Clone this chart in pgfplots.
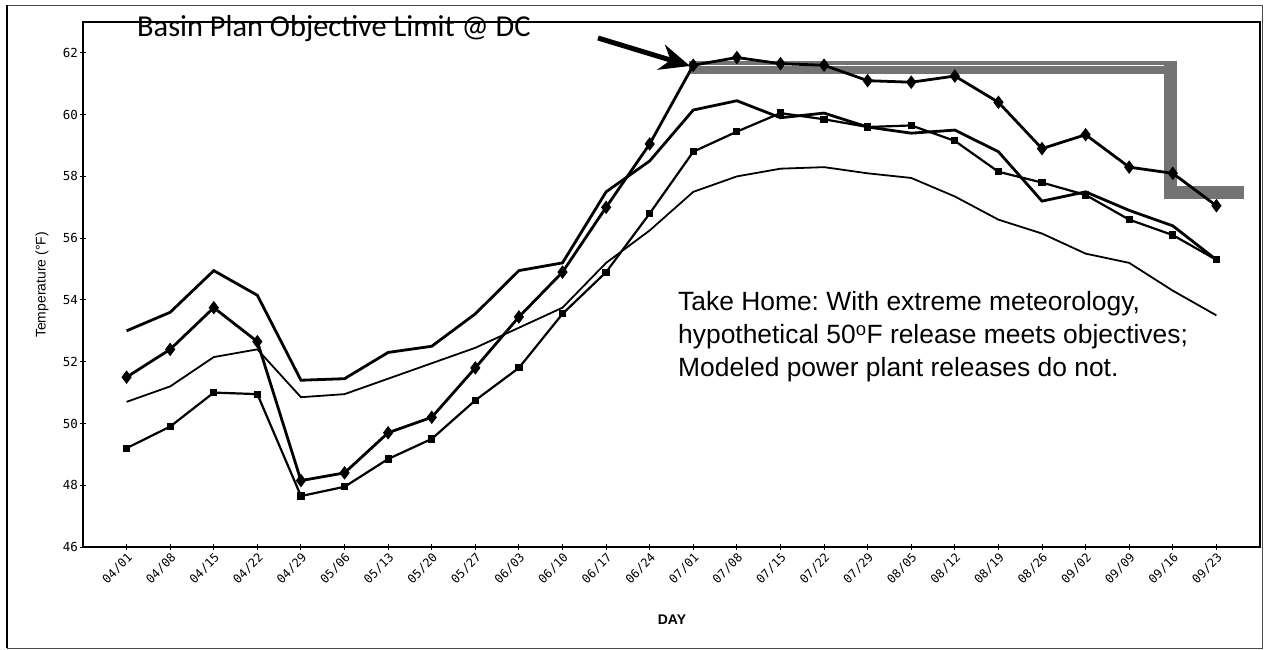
\documentclass[border=0pt]{standalone}
\usepackage{fontspec}
\setmainfont{Liberation Sans}
\newfontfamily\calibri{Carlito}
\newfontfamily\tickfont{DejaVu Sans Mono}
\usepackage{pgfplots}
\pgfplotsset{compat=1.18}
\usetikzlibrary{arrows.meta}
\frenchspacing
\begin{document}
\begin{tikzpicture}
\begin{axis}[
  at={(0,0)}, anchor=south west,
  scale only axis, width=1177bp, height=525bp,
  xmin=-1, xmax=26, ymin=46, ymax=63,
  xtick={0,...,25},
  xticklabels={04/01,04/08,04/15,04/22,04/29,05/06,05/13,05/20,05/27,06/03,06/10,06/17,06/24,07/01,07/08,07/15,07/22,07/29,08/05,08/12,08/19,08/26,09/02,09/09,09/16,09/23},
  ytick={46,48,...,62},
  tick pos=left, tick align=center,
  major tick length=6bp,
  axis line style={black, line width=1.4bp},
  every tick/.style={black, line width=1bp},
  /pgf/number format/assume math mode=true,
  x tick label style={font=\tickfont\fontsize{12}{12}\selectfont, rotate=45, anchor=north east, inner sep=1.5bp},
  y tick label style={font=\tickfont\fontsize{12.5}{13}\selectfont, inner sep=2bp},
  clip=false,
]
% objective limit band
\addplot[black!55, line width=13bp, line join=miter, line cap=butt] coordinates {(12.91,61.54) (23.95,61.54) (23.95,57.48) (25.64,57.48)};
\addplot[white, line width=1.2bp] coordinates {(12.95,61.6) (23.8,61.6)};
% A: thick plain
\addplot[black, line width=2.8bp] coordinates {
(0,53.0) (1,53.6) (2,54.95) (3,54.15) (4,51.4) (5,51.45) (6,52.3) (7,52.5) (8,53.55) (9,54.95) (10,55.2) (11,57.5) (12,58.5) (13,60.15) (14,60.45) (15,59.9) (16,60.05) (17,59.6) (18,59.4) (19,59.5) (20,58.8) (21,57.2) (22,57.5) (23,56.9) (24,56.4) (25,55.3)};
% B: diamonds
\addplot[black, line width=2.8bp, mark=diamond*, mark size=4.5bp] coordinates {
(0,51.5) (1,52.4) (2,53.75) (3,52.65) (4,48.15) (5,48.4) (6,49.7) (7,50.2) (8,51.8) (9,53.45) (10,54.9) (11,57.0) (12,59.05) (13,61.6) (14,61.85) (15,61.65) (16,61.6) (17,61.1) (18,61.05) (19,61.25) (20,60.4) (21,58.9) (22,59.35) (23,58.3) (24,58.1) (25,57.05)};
% C: thin plain
\addplot[black, line width=1.8bp] coordinates {
(0,50.7) (1,51.2) (2,52.15) (3,52.4) (4,50.85) (5,50.95) (6,51.45) (7,51.95) (8,52.45) (9,53.1) (10,53.75) (11,55.2) (12,56.25) (13,57.5) (14,58.0) (15,58.25) (16,58.3) (17,58.1) (18,57.95) (19,57.35) (20,56.6) (21,56.15) (22,55.5) (23,55.2) (24,54.3) (25,53.5)};
% D: small squares
\addplot[black, line width=2.2bp, mark=square*, mark size=2.5bp] coordinates {
(0,49.2) (1,49.9) (2,51.0) (3,50.95) (4,47.65) (5,47.95) (6,48.85) (7,49.5) (8,50.75) (9,51.8) (10,53.55) (11,54.9) (12,56.8) (13,58.8) (14,59.45) (15,60.05) (16,59.85) (17,59.6) (18,59.65) (19,59.15) (20,58.15) (21,57.8) (22,57.4) (23,56.6) (24,56.1) (25,55.3)};
\end{axis}
% labels
\node[rotate=90, font=\fontsize{14}{16}\selectfont] at (-41bp,262bp) {Temperature (°F)};
\node[font=\bfseries\fontsize{14}{16}\selectfont] at (589bp,-73bp) {DAY};
% title
\node[anchor=base west, inner sep=0, font=\calibri\fontsize{30.5}{36}\selectfont] at (54bp,510bp) {Basin Plan Objective Limit @ DC};
% arrow
\draw[line width=5bp, -{Stealth[length=30bp,width=26bp]}] (515bp,509bp) -- (607bp,481bp);
% take home text
\node[anchor=base west, inner sep=0, font=\fontsize{26.5}{32}\selectfont] at (595bp,236bp) {Take Home: With extreme meteorology,};
\node[anchor=base west, inner sep=0, font=\fontsize{26.5}{32}\selectfont] at (595bp,203bp) {hypothetical 50\textsuperscript{o}F release meets objectives;};
\node[anchor=base west, inner sep=0, font=\fontsize{26.5}{32}\selectfont] at (595bp,170bp) {Modeled power plant releases do not.};
% frame
\draw[black!70, line width=0.8bp] (-76bp,-101bp) rectangle (1179bp,542bp);
\draw[black, line width=2bp] (-76bp,-101bp) -- (-76bp,542bp);
\pgfresetboundingbox
\useasboundingbox (-83bp,-103bp) rectangle (1181bp,547bp);
\end{tikzpicture}
\end{document}
